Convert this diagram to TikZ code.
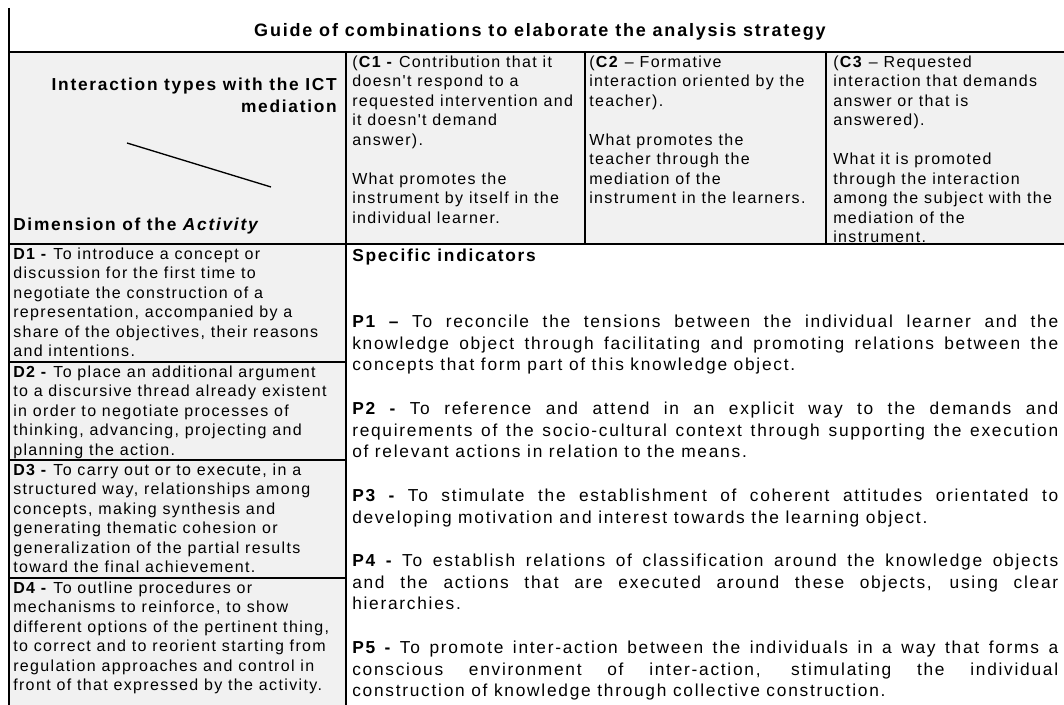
\documentclass[tikz,border=0pt]{standalone}
\usepackage{fontspec}
\setmainfont{Liberation Sans}
\newfontfamily\smallf{Liberation Sans}[LetterSpace=8.5]
\newfontfamily\bigf{Liberation Sans}[LetterSpace=10]
\definecolor{cellgrey}{RGB}{241,241,241}
\tikzset{
  rule/.style={line width=1.5pt, black},
  thinrule/.style={line width=1pt, black},
  bodytxt/.style={inner sep=0pt, anchor=north west, align=left,
    font=\smallf\fontsize{12}{14.625}\selectfont},
  headtxt/.style={inner sep=0pt, font=\bigf\bfseries\fontsize{13}{16.5}\selectfont},
  titletxt/.style={inner sep=0pt, font=\bigf\bfseries\fontsize{13.5}{16.5}\selectfont},
  ptxt/.style={inner sep=0pt, anchor=north west, text width=529.5pt, align=justify,
    font=\bigf\fontsize{13}{16.3}\selectfont},
}
\begin{document}
\begin{tikzpicture}[x=0.75pt,y=-0.75pt]
\useasboundingbox (0,0) rectangle (1064,705);
% fills
\fill[cellgrey] (8,52) rectangle (1064,244);
\fill[cellgrey] (8,244) rectangle (346,705);
% rules
\draw[rule] (8.5,8) -- (8.5,705);
\draw[rule] (8,52) -- (1064,52);
\draw[rule] (8,244) -- (1064,244);
\draw[rule] (346,52) -- (346,705);
\draw[rule] (585,52) -- (585,244);
\draw[rule] (826,52) -- (826,244);
\draw[rule] (8,362) -- (346,362);
\draw[rule] (8,460) -- (346,460);
\draw[rule] (8,578) -- (346,578);
% title
\node[titletxt, anchor=base] (title) at (540,37) {Guide of combinations to elaborate the analysis strategy};
% left header
\node[headtxt, anchor=north east, align=right] (ict) at (337,74.6) {\strut Interaction types with the ICT\\mediation};
\coordinate (diagA) at (127,143);
\coordinate (diagB) at (271,187);
\draw[thinrule] (diagA) -- (diagB);
\node[headtxt, anchor=base west] (dim) at (13,231) {Dimension of the \textit{Activity}};
% column headers
\node[bodytxt] (c1) at (352,53.35) {\strut(\textbf{C1 -} Contribution that it\\doesn't respond to a\\requested intervention and\\it doesn't demand\\answer).\\\mbox{}\\What promotes the\\instrument by itself in the\\individual learner.};
\node[bodytxt] (c2) at (589,53.35) {\strut(\textbf{C2} – Formative\\interaction oriented by the\\teacher).\\\mbox{}\\What promotes the\\teacher through the\\mediation of the\\instrument in the learners.};
\node[bodytxt] (c3) at (833,53.35) {\strut(\textbf{C3} – Requested\\interaction that demands\\answer or that is\\answered).\\\mbox{}\\What it is promoted\\through the interaction\\among the subject with the\\mediation of the\\instrument.};
% dimensions
\node[bodytxt] (d1) at (13,245.35) {\strut\textbf{D1 -} To introduce a concept or\\discussion for the first time to\\negotiate the construction of a\\representation, accompanied by a\\share of the objectives, their reasons\\and intentions.};
\node[bodytxt] (d2) at (13,363.35) {\strut\textbf{D2 -} To place an additional argument\\to a discursive thread already existent\\in order to negotiate processes of\\thinking, advancing, projecting and\\planning the action.};
\node[bodytxt] (d3) at (13,461.35) {\strut\textbf{D3 -} To carry out or to execute, in a\\structured way, relationships among\\concepts, making synthesis and\\generating thematic cohesion or\\generalization of the partial results\\toward the final achievement.};
\node[bodytxt] (d4) at (13,579.35) {\strut\textbf{D4 -} To outline procedures or\\mechanisms to reinforce, to show\\different options of the pertinent thing,\\to correct and to reorient starting from\\regulation approaches and control in\\front of that expressed by the activity.};
% indicators
\node[headtxt, anchor=base west] (spec) at (352,262) {Specific indicators};
\node[ptxt] (p1) at (352,311.8) {\strut\textbf{P1 –} To reconcile the tensions between the individual learner and the\linebreak knowledge object through facilitating and promoting relations between the\linebreak concepts that form part of this knowledge object.};
\node[ptxt] (p2) at (352,398.8) {\strut\textbf{P2 -} To reference and attend in an explicit way to the demands and\linebreak requirements of the socio-cultural context through supporting the execution\linebreak of relevant actions in relation to the means.};
\node[ptxt] (p3) at (352,485.8) {\strut\textbf{P3 -} To stimulate the establishment of coherent attitudes orientated to\linebreak developing motivation and interest towards the learning object.};
\node[ptxt] (p4) at (352,551) {\strut\textbf{P4 -} To establish relations of classification around the knowledge objects\linebreak and the actions that are executed around these objects, using clear\linebreak hierarchies.};
\node[ptxt] (p5) at (352,638) {\strut\textbf{P5 -} To promote inter-action between the individuals in a way that forms a\linebreak conscious environment of inter-action, stimulating the individual\linebreak construction of knowledge through collective construction.};
\end{tikzpicture}
\end{document}
